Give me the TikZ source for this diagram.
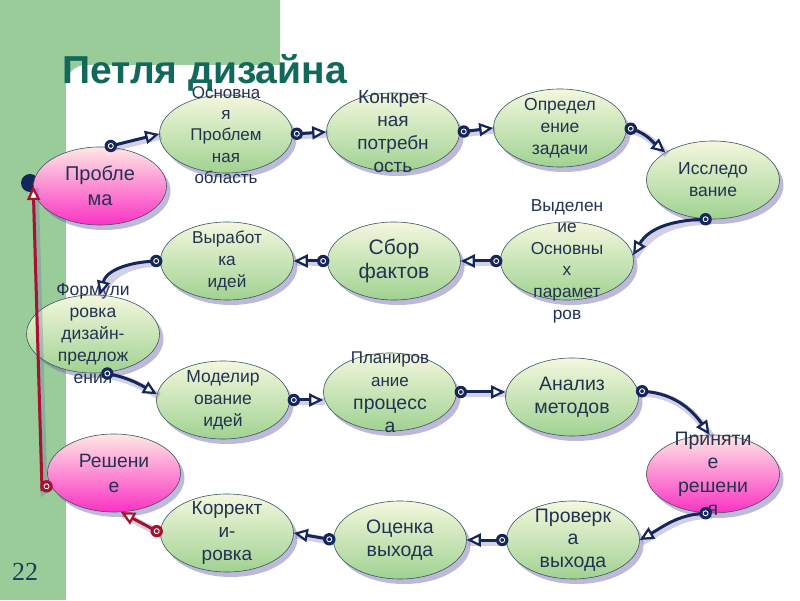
\documentclass[tikz,border=0pt]{standalone}
\usepackage{fontspec}
\setmainfont{Liberation Sans}
\newfontfamily\serifnum{Liberation Serif}
\usetikzlibrary{shapes.geometric,arrows.meta,decorations.markings,shadows}
\definecolor{bggreen}{RGB}{153,204,153}
\definecolor{titlec}{RGB}{18,104,90}
\definecolor{txtc}{RGB}{35,50,80}
\definecolor{navyc}{RGB}{20,38,90}
\definecolor{redc}{RGB}{168,18,48}
\definecolor{elborder}{RGB}{60,85,95}
\definecolor{gtop}{RGB}{244,247,222}
\definecolor{gbot}{RGB}{160,210,145}
\definecolor{ptop}{RGB}{255,232,228}
\definecolor{pbot}{RGB}{250,50,195}
\definecolor{shadc}{RGB}{110,100,175}
\definecolor{numc}{RGB}{30,60,90}
\tikzset{
  el/.style={ellipse, draw=elborder, line width=0.6pt, minimum width=133pt, minimum height=78pt, inner sep=0pt,
    top color=gtop, bottom color=gbot,
    drop shadow={shadow xshift=4pt, shadow yshift=-5pt, fill=shadc, opacity=0.45}},
  pel/.style={el, top color=ptop, bottom color=pbot},
  tx/.style={align=center, inner sep=0pt, text=txtc},
  conn/.style={draw=#1, line width=3pt,
    -{Triangle[length=14pt, width=13pt, fill=white, line width=2.2pt]},
    preaction={draw=shadc, draw opacity=0.3, line width=7pt, arrows=-, transform canvas={shift={(2pt,-2pt)}}},
    postaction={decorate},
    decoration={markings, mark=at position 0 with {\fill[#1] (4,0) circle (6.2); \draw[white, line width=0.9pt] (4,0) circle (2.5);}}},
  conn/.default=navyc
}
\begin{document}
\begin{tikzpicture}[x=1pt,y=1pt]
\useasboundingbox (0,0) rectangle (800,600);
\fill[white] (0,0) rectangle (800,600);
\fill[bggreen] (0,0) rectangle (66,600);
\fill[bggreen] (0,535) rectangle (280,600);
\fill[bggreen] (66,535) -- (86,535) arc[start angle=90, end angle=180, radius=20] -- cycle;
\node[anchor=base west, font=\fontsize{39}{42}\selectfont\bfseries, text=titlec, inner sep=0pt] (title) at (62,516) {Петля дизайна};
\node[anchor=base west, font=\serifnum\fontsize{26}{28}\selectfont, text=numc, inner sep=0pt] (num) at (12,20) {22};
\fill[navyc] (30,417) circle (9);
% ellipses
\node[pel] (n1) at (100,414) {};
\node[el] (n2) at (226,466) {};
\node[el] (n3) at (393,468) {};
\node[el] (n4) at (560,472) {};
\node[el] (n5) at (713,420) {};
\node[el] (n6) at (567,339) {};
\node[el] (n7) at (394,339) {};
\node[el] (n8) at (227,339) {};
\node[el] (n9) at (93,266) {};
\node[el] (n10) at (223,200) {};
\node[el] (n11) at (390,208) {};
\node[el] (n12) at (572,203) {};
\node[pel] (n13) at (713,126) {};
\node[pel] (n14) at (114,127) {};
\node[el] (n15) at (227,67) {};
\node[el] (n16) at (400,60) {};
\node[el] (n17) at (573,60) {};
% texts
\node[tx, font=\fontsize{20}{25}\selectfont] (t1) at (n1) {Пробле\\ма};
\node[tx, font=\fontsize{17}{21.2}\selectfont] (t2) at ([yshift=-1pt]n2.center) {Основна\\я\\Проблем\\ная\\область};
\node[tx, font=\fontsize{19}{23}\selectfont] (t3) at (n3) {Конкрет\\ная\\потребн\\ость};
\node[tx, font=\fontsize{17.5}{22}\selectfont] (t4) at (n4) {Определ\\ение\\задачи};
\node[tx, font=\fontsize{17.5}{22}\selectfont] (t5) at (n5) {Исследо\\вание};
\node[tx, font=\fontsize{17.3}{21.6}\selectfont] (t6) at (n6) {Выделен\\ие\\Основны\\х\\парамет\\ров};
\node[tx, font=\fontsize{21}{24}\selectfont] (t7) at (n7) {Сбор\\фактов};
\node[tx, font=\fontsize{17.2}{22}\selectfont] (t8) at (n8) {Выработ\\ка\\идей};
\node[tx, font=\fontsize{17.5}{22}\selectfont] (t9) at (n9) {Формули\\ровка\\дизайн-\\предлож\\ения};
\node[tx, font=\fontsize{17.5}{22}\selectfont] (t10) at (n10) {Моделир\\ование\\идей};
\node[tx, font=\fontsize{19.5}{23}\selectfont] (t11) at (n11) {{\fontsize{17}{21}\selectfont Планиров}\\{\fontsize{17}{21}\selectfont ание}\\процесс\\а};
\node[tx, font=\fontsize{19.5}{23}\selectfont] (t12) at (n12) {Анализ\\методов};
\node[tx, font=\fontsize{19.5}{23.5}\selectfont] (t13) at (n13) {Приняти\\е\\решени\\я};
\node[tx, font=\fontsize{19.3}{25}\selectfont] (t14) at (n14) {Решени\\е};
\node[tx, font=\fontsize{19}{23}\selectfont] (t15) at (n15) {Коррект\\и-\\ровка};
\node[tx, font=\fontsize{19.5}{23}\selectfont] (t16) at (n16) {Оценка\\выхода};
\node[tx, font=\fontsize{19.5}{22.5}\selectfont] (t17) at (n17) {Проверк\\а\\выхода};
% connectors
\draw[conn] (n1.80) -- (n2.west);
\draw[conn] (n2.east) -- (n3.west);
\draw[conn] (n3.east) -- (n4.west);
\draw[conn] (n4.east) to[out=-10, in=140] (n5.150);
\draw[conn] (n5.265) to[out=180, in=60] (n6.5);
\draw[conn] (n6.west) -- (n7.east);
\draw[conn] (n7.west) -- (n8.east);
\draw[conn] (n8.west) to[out=180, in=75] (n9.80);
\draw[conn] (n9.285) to[out=-10, in=150] (n10.175);
\draw[conn] (n10.east) -- (n10.east -| n11.west);
\draw[conn] (n11.east) -- (n11.east -| n12.west);
\draw[conn] (n12.5) to[out=0, in=125] (n13.95);
\draw[conn] (n13.265) to[out=180, in=30] (n17.east);
\draw[conn] (n17.west) -- (n16.east);
\draw[conn] (n16.west) -- (n15.east);
\draw[conn=redc] (n15.west) -- (n14.280);
\coordinate (rb) at (42,111);
\draw[conn=redc] (n14.190) -- (rb) -- (n1.west);
\end{tikzpicture}
\end{document}
